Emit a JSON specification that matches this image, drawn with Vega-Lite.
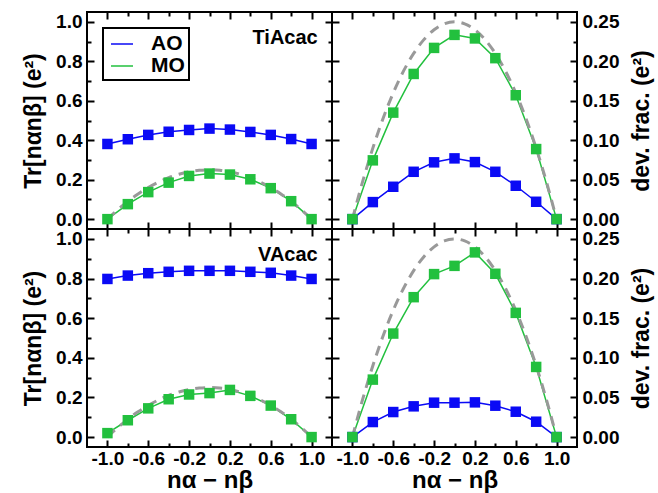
{
"$schema": "https://vega.github.io/schema/vega-lite/v6.json",
"background": "white",
"padding": {"left": 21, "top": 10, "right": 0, "bottom": 0},
"config": {
  "view": {"stroke": "black", "strokeWidth": 2},
  "axis": {"domain": false, "grid": false, "labelFont": "Liberation Sans", "labelFontWeight": "bold", "labelFontSize": 19, "labelColor": "black", "tickColor": "black", "tickWidth": 2, "titleFont": "Liberation Sans", "titleFontWeight": "bold", "titleFontSize": 23, "titleColor": "black", "labelFlush": false, "labelOverlap": false}
},
"datasets": {
  "series": [
    {"m":"TiAcac","q":"tr","s":"AO","x":-1,"y":0.381},{"m":"TiAcac","q":"tr","s":"AO","x":-0.8,"y":0.405},{"m":"TiAcac","q":"tr","s":"AO","x":-0.6,"y":0.427},{"m":"TiAcac","q":"tr","s":"AO","x":-0.4,"y":0.443},{"m":"TiAcac","q":"tr","s":"AO","x":-0.2,"y":0.452},{"m":"TiAcac","q":"tr","s":"AO","x":0,"y":0.459},{"m":"TiAcac","q":"tr","s":"AO","x":0.2,"y":0.454},{"m":"TiAcac","q":"tr","s":"AO","x":0.4,"y":0.442},{"m":"TiAcac","q":"tr","s":"AO","x":0.6,"y":0.427},{"m":"TiAcac","q":"tr","s":"AO","x":0.8,"y":0.406},{"m":"TiAcac","q":"tr","s":"AO","x":1,"y":0.381},
    {"m":"TiAcac","q":"tr","s":"MO","x":-1,"y":0.0},{"m":"TiAcac","q":"tr","s":"MO","x":-0.8,"y":0.076},{"m":"TiAcac","q":"tr","s":"MO","x":-0.6,"y":0.137},{"m":"TiAcac","q":"tr","s":"MO","x":-0.4,"y":0.185},{"m":"TiAcac","q":"tr","s":"MO","x":-0.2,"y":0.219},{"m":"TiAcac","q":"tr","s":"MO","x":0,"y":0.231},{"m":"TiAcac","q":"tr","s":"MO","x":0.2,"y":0.226},{"m":"TiAcac","q":"tr","s":"MO","x":0.4,"y":0.202},{"m":"TiAcac","q":"tr","s":"MO","x":0.6,"y":0.157},{"m":"TiAcac","q":"tr","s":"MO","x":0.8,"y":0.091},{"m":"TiAcac","q":"tr","s":"MO","x":1,"y":0.0},
    {"m":"TiAcac","q":"dev","s":"AO","x":-1,"y":0},{"m":"TiAcac","q":"dev","s":"AO","x":-0.8,"y":0.0216},{"m":"TiAcac","q":"dev","s":"AO","x":-0.6,"y":0.041},{"m":"TiAcac","q":"dev","s":"AO","x":-0.4,"y":0.06},{"m":"TiAcac","q":"dev","s":"AO","x":-0.2,"y":0.072},{"m":"TiAcac","q":"dev","s":"AO","x":0,"y":0.077},{"m":"TiAcac","q":"dev","s":"AO","x":0.2,"y":0.0723},{"m":"TiAcac","q":"dev","s":"AO","x":0.4,"y":0.06},{"m":"TiAcac","q":"dev","s":"AO","x":0.6,"y":0.0423},{"m":"TiAcac","q":"dev","s":"AO","x":0.8,"y":0.022},{"m":"TiAcac","q":"dev","s":"AO","x":1,"y":0},
    {"m":"TiAcac","q":"dev","s":"MO","x":-1,"y":0},{"m":"TiAcac","q":"dev","s":"MO","x":-0.8,"y":0.0745},{"m":"TiAcac","q":"dev","s":"MO","x":-0.6,"y":0.135},{"m":"TiAcac","q":"dev","s":"MO","x":-0.4,"y":0.184},{"m":"TiAcac","q":"dev","s":"MO","x":-0.2,"y":0.217},{"m":"TiAcac","q":"dev","s":"MO","x":0,"y":0.2335},{"m":"TiAcac","q":"dev","s":"MO","x":0.2,"y":0.229},{"m":"TiAcac","q":"dev","s":"MO","x":0.4,"y":0.204},{"m":"TiAcac","q":"dev","s":"MO","x":0.6,"y":0.157},{"m":"TiAcac","q":"dev","s":"MO","x":0.8,"y":0.0888},{"m":"TiAcac","q":"dev","s":"MO","x":1,"y":0},
    {"m":"VAcac","q":"tr","s":"AO","x":-1,"y":0.798},{"m":"VAcac","q":"tr","s":"AO","x":-0.8,"y":0.815},{"m":"VAcac","q":"tr","s":"AO","x":-0.6,"y":0.827},{"m":"VAcac","q":"tr","s":"AO","x":-0.4,"y":0.834},{"m":"VAcac","q":"tr","s":"AO","x":-0.2,"y":0.839},{"m":"VAcac","q":"tr","s":"AO","x":0,"y":0.839},{"m":"VAcac","q":"tr","s":"AO","x":0.2,"y":0.839},{"m":"VAcac","q":"tr","s":"AO","x":0.4,"y":0.834},{"m":"VAcac","q":"tr","s":"AO","x":0.6,"y":0.829},{"m":"VAcac","q":"tr","s":"AO","x":0.8,"y":0.815},{"m":"VAcac","q":"tr","s":"AO","x":1,"y":0.798},
    {"m":"VAcac","q":"tr","s":"MO","x":-1,"y":0.02},{"m":"VAcac","q":"tr","s":"MO","x":-0.8,"y":0.085},{"m":"VAcac","q":"tr","s":"MO","x":-0.6,"y":0.145},{"m":"VAcac","q":"tr","s":"MO","x":-0.4,"y":0.191},{"m":"VAcac","q":"tr","s":"MO","x":-0.2,"y":0.215},{"m":"VAcac","q":"tr","s":"MO","x":0,"y":0.222},{"m":"VAcac","q":"tr","s":"MO","x":0.2,"y":0.238},{"m":"VAcac","q":"tr","s":"MO","x":0.4,"y":0.208},{"m":"VAcac","q":"tr","s":"MO","x":0.6,"y":0.159},{"m":"VAcac","q":"tr","s":"MO","x":0.8,"y":0.09},{"m":"VAcac","q":"tr","s":"MO","x":1,"y":0.0},
    {"m":"VAcac","q":"dev","s":"AO","x":-1,"y":0},{"m":"VAcac","q":"dev","s":"AO","x":-0.8,"y":0.019},{"m":"VAcac","q":"dev","s":"AO","x":-0.6,"y":0.0316},{"m":"VAcac","q":"dev","s":"AO","x":-0.4,"y":0.0388},{"m":"VAcac","q":"dev","s":"AO","x":-0.2,"y":0.0434},{"m":"VAcac","q":"dev","s":"AO","x":0,"y":0.0434},{"m":"VAcac","q":"dev","s":"AO","x":0.2,"y":0.0438},{"m":"VAcac","q":"dev","s":"AO","x":0.4,"y":0.0396},{"m":"VAcac","q":"dev","s":"AO","x":0.6,"y":0.032},{"m":"VAcac","q":"dev","s":"AO","x":0.8,"y":0.0194},{"m":"VAcac","q":"dev","s":"AO","x":1,"y":0},
    {"m":"VAcac","q":"dev","s":"MO","x":-1,"y":0},{"m":"VAcac","q":"dev","s":"MO","x":-0.8,"y":0.0725},{"m":"VAcac","q":"dev","s":"MO","x":-0.6,"y":0.1306},{"m":"VAcac","q":"dev","s":"MO","x":-0.4,"y":0.1765},{"m":"VAcac","q":"dev","s":"MO","x":-0.2,"y":0.2056},{"m":"VAcac","q":"dev","s":"MO","x":0,"y":0.216},{"m":"VAcac","q":"dev","s":"MO","x":0.2,"y":0.233},{"m":"VAcac","q":"dev","s":"MO","x":0.4,"y":0.206},{"m":"VAcac","q":"dev","s":"MO","x":0.6,"y":0.1567},{"m":"VAcac","q":"dev","s":"MO","x":0.8,"y":0.0885},{"m":"VAcac","q":"dev","s":"MO","x":1,"y":0}
  ],
  "ideal": [
    {"x":-1,"y":0},{"x":-0.9,"y":0.0475},{"x":-0.8,"y":0.09},{"x":-0.7,"y":0.1275},{"x":-0.6,"y":0.16},{"x":-0.5,"y":0.1875},{"x":-0.4,"y":0.21},{"x":-0.3,"y":0.2275},{"x":-0.2,"y":0.24},{"x":-0.1,"y":0.2475},{"x":0,"y":0.25},{"x":0.1,"y":0.2475},{"x":0.2,"y":0.24},{"x":0.3,"y":0.2275},{"x":0.4,"y":0.21},{"x":0.5,"y":0.1875},{"x":0.6,"y":0.16},{"x":0.7,"y":0.1275},{"x":0.8,"y":0.09},{"x":0.9,"y":0.0475},{"x":1,"y":0}
  ]
},
"columns": 2,
"spacing": 0,
"bounds": "flush",
"resolve": {"scale": {"x": "independent", "y": "independent", "color": "independent", "fill": "independent"}, "legend": {"color": "independent", "fill": "independent"}},
"concat": [
  {
    "width": 245, "height": 217,
    "resolve": {"axis": {"x": "independent", "y": "independent"}},
    "layer": [
      {
        "data": {"name": "series"},
        "transform": [{"filter": "datum.m=='TiAcac' && datum.q=='tr'"}],
        "mark": {"type": "line", "strokeWidth": 1.5},
        "encoding": {
          "x": {"field": "x", "type": "quantitative", "scale": {"domain": [-1.2, 1.2], "nice": false, "zero": false}, "axis": {"orient": "top", "values": [-1,-0.8,-0.6,-0.4,-0.2,0,0.2,0.4,0.6,0.8,1], "labels": false, "title": null, "tickSize": {"condition": {"test": "abs(round(datum.value*10))%4==2", "value": -7}, "value": -4}}},
          "y": {"field": "y", "type": "quantitative", "scale": {"domain": [-0.05, 1.05], "nice": false, "zero": false}, "axis": {"orient": "right", "values": [0,0.1,0.2,0.3,0.4,0.5,0.6,0.7,0.8,0.9,1], "labels": false, "title": null, "tickSize": {"condition": {"test": "round(datum.value*10)%2==0", "value": -7}, "value": -4}}},
          "color": {"field": "s", "type": "nominal", "scale": {"domain": ["AO", "MO"], "range": ["#0a0af5", "#22c03e"]}, "legend": {"orient": "top-left", "offset": 16, "title": null, "padding": 4, "symbolOffset": 3, "strokeColor": "black", "fillColor": "white", "symbolType": "stroke", "symbolSize": 484, "symbolStrokeWidth": 1.5, "labelFont": "Liberation Sans", "labelFontWeight": "bold", "labelFontSize": 21, "labelColor": "black", "labelOffset": 17, "rowPadding": 0, "encode": {"legend": {"update": {"strokeWidth": {"value": 2}}}}}}
        }
      },
      {
        "data": {"name": "ideal"},
        "mark": {"type": "line", "color": "#999999", "strokeWidth": 3, "strokeDash": [10, 7], "interpolate": "monotone"},
        "encoding": {
          "x": {"field": "x", "type": "quantitative", "axis": {"orient": "bottom", "values": [-1,-0.6,-0.2,0.2,0.6,1], "labels": false, "title": null, "tickSize": -7}},
          "y": {"field": "y", "type": "quantitative", "axis": {"orient": "left", "values": [0,0.1,0.2,0.3,0.4,0.5,0.6,0.7,0.8,0.9,1], "labelExpr": "round(datum.value*10)%2==0 ? format(datum.value,'.1f') : ''", "labelPadding": 12, "title": "Tr[nαnβ] (e²)", "titlePadding": 10, "tickSize": {"condition": {"test": "round(datum.value*10)%2==0", "value": -7}, "value": -4}}}
        }
      },
      {
        "data": {"name": "series"},
        "transform": [{"filter": "datum.m=='TiAcac' && datum.q=='tr'"}],
        "mark": {"type": "point", "shape": "square", "size": 110, "filled": true, "opacity": 1, "strokeWidth": 0},
        "encoding": {
          "x": {"field": "x", "type": "quantitative", "axis": null},
          "y": {"field": "y", "type": "quantitative", "axis": null},
          "fill": {"field": "s", "type": "nominal", "scale": {"domain": ["AO", "MO"], "range": ["#0a0af5", "#22c03e"]}, "legend": null}
        }
      },
      {
        "data": {"values": [{"label": "TiAcac"}]},
        "mark": {"type": "text", "align": "right", "baseline": "alphabetic", "font": "Liberation Sans", "fontWeight": "bold", "fontSize": 20, "color": "black"},
        "encoding": {
          "x": {"datum": 1.06, "type": "quantitative", "axis": null},
          "y": {"datum": 0.89, "type": "quantitative", "axis": null},
          "text": {"field": "label"}
        }
      }
    ]
  },
  {
    "width": 245, "height": 217,
    "resolve": {"axis": {"x": "independent", "y": "independent"}},
    "layer": [
      {
        "data": {"name": "series"},
        "transform": [{"filter": "datum.m=='TiAcac' && datum.q=='dev'"}],
        "mark": {"type": "line", "strokeWidth": 1.5},
        "encoding": {
          "x": {"field": "x", "type": "quantitative", "scale": {"domain": [-1.2, 1.2], "nice": false, "zero": false}, "axis": {"orient": "top", "values": [-1,-0.8,-0.6,-0.4,-0.2,0,0.2,0.4,0.6,0.8,1], "labels": false, "title": null, "tickSize": {"condition": {"test": "abs(round(datum.value*10))%4==2", "value": -7}, "value": -4}}},
          "y": {"field": "y", "type": "quantitative", "scale": {"domain": [-0.0125, 0.2625], "nice": false, "zero": false}, "axis": {"orient": "right", "values": [0,0.025,0.05,0.075,0.1,0.125,0.15,0.175,0.2,0.225,0.25], "labelExpr": "round(datum.value*40)%2==0 ? format(datum.value,'.2f') : ''", "labelPadding": 12, "title": "dev. frac. (e²)", "titleAngle": 270, "titleBaseline": "top", "titlePadding": 12, "tickSize": {"condition": {"test": "round(datum.value*40)%2==0", "value": -7}, "value": -4}}},
          "color": {"field": "s", "type": "nominal", "scale": {"domain": ["AO", "MO"], "range": ["#0a0af5", "#22c03e"]}, "legend": null}
        }
      },
      {
        "data": {"name": "ideal"},
        "mark": {"type": "line", "color": "#999999", "strokeWidth": 3, "strokeDash": [10, 7], "interpolate": "monotone"},
        "encoding": {
          "x": {"field": "x", "type": "quantitative", "axis": {"orient": "bottom", "values": [-1,-0.6,-0.2,0.2,0.6,1], "labels": false, "title": null, "tickSize": -7}},
          "y": {"field": "y", "type": "quantitative", "axis": {"orient": "left", "values": [0,0.05,0.1,0.15,0.2,0.25], "labels": false, "title": null, "tickSize": -7}}
        }
      },
      {
        "data": {"name": "series"},
        "transform": [{"filter": "datum.m=='TiAcac' && datum.q=='dev'"}],
        "mark": {"type": "point", "shape": "square", "size": 110, "filled": true, "opacity": 1, "strokeWidth": 0},
        "encoding": {
          "x": {"field": "x", "type": "quantitative", "axis": null},
          "y": {"field": "y", "type": "quantitative", "axis": null},
          "fill": {"field": "s", "type": "nominal", "scale": {"domain": ["AO", "MO"], "range": ["#0a0af5", "#22c03e"]}, "legend": null}
        }
      }
    ]
  },
  {
    "width": 245, "height": 218,
    "resolve": {"axis": {"x": "independent", "y": "independent"}},
    "layer": [
      {
        "data": {"name": "series"},
        "transform": [{"filter": "datum.m=='VAcac' && datum.q=='tr'"}],
        "mark": {"type": "line", "strokeWidth": 1.5},
        "encoding": {
          "x": {"field": "x", "type": "quantitative", "scale": {"domain": [-1.2, 1.2], "nice": false, "zero": false}, "axis": {"orient": "top", "values": [-1,-0.8,-0.6,-0.4,-0.2,0,0.2,0.4,0.6,0.8,1], "labels": false, "title": null, "tickSize": {"condition": {"test": "abs(round(datum.value*10))%4==2", "value": -7}, "value": -4}}},
          "y": {"field": "y", "type": "quantitative", "scale": {"domain": [-0.05, 1.05], "nice": false, "zero": false}, "axis": {"orient": "right", "values": [0,0.1,0.2,0.3,0.4,0.5,0.6,0.7,0.8,0.9,1], "labels": false, "title": null, "tickSize": {"condition": {"test": "round(datum.value*10)%2==0", "value": -7}, "value": -4}}},
          "color": {"field": "s", "type": "nominal", "scale": {"domain": ["AO", "MO"], "range": ["#0a0af5", "#22c03e"]}, "legend": null}
        }
      },
      {
        "data": {"name": "ideal"},
        "mark": {"type": "line", "color": "#999999", "strokeWidth": 3, "strokeDash": [10, 7], "interpolate": "monotone"},
        "encoding": {
          "x": {"field": "x", "type": "quantitative", "axis": {"orient": "bottom", "values": [-1,-0.8,-0.6,-0.4,-0.2,0,0.2,0.4,0.6,0.8,1], "labelExpr": "abs(round(datum.value*10))%4==2 ? replace(format(datum.value,'.1f'),'−','-') : ''", "labelPadding": 9, "title": "nα − nβ", "titleFontSize": 24, "titlePadding": -3, "tickSize": {"condition": {"test": "abs(round(datum.value*10))%4==2", "value": -7}, "value": -4}}},
          "y": {"field": "y", "type": "quantitative", "axis": {"orient": "left", "values": [0,0.1,0.2,0.3,0.4,0.5,0.6,0.7,0.8,0.9,1], "labelExpr": "round(datum.value*10)%2==0 ? format(datum.value,'.1f') : ''", "labelPadding": 12, "title": "Tr[nαnβ] (e²)", "titlePadding": 10, "tickSize": {"condition": {"test": "round(datum.value*10)%2==0", "value": -7}, "value": -4}}}
        }
      },
      {
        "data": {"name": "series"},
        "transform": [{"filter": "datum.m=='VAcac' && datum.q=='tr'"}],
        "mark": {"type": "point", "shape": "square", "size": 110, "filled": true, "opacity": 1, "strokeWidth": 0},
        "encoding": {
          "x": {"field": "x", "type": "quantitative", "axis": null},
          "y": {"field": "y", "type": "quantitative", "axis": null},
          "fill": {"field": "s", "type": "nominal", "scale": {"domain": ["AO", "MO"], "range": ["#0a0af5", "#22c03e"]}, "legend": null}
        }
      },
      {
        "data": {"values": [{"label": "VAcac"}]},
        "mark": {"type": "text", "align": "right", "baseline": "alphabetic", "font": "Liberation Sans", "fontWeight": "bold", "fontSize": 20, "color": "black"},
        "encoding": {
          "x": {"datum": 1.06, "type": "quantitative", "axis": null},
          "y": {"datum": 0.888, "type": "quantitative", "axis": null},
          "text": {"field": "label"}
        }
      }
    ]
  },
  {
    "width": 245, "height": 218,
    "resolve": {"axis": {"x": "independent", "y": "independent"}},
    "layer": [
      {
        "data": {"name": "series"},
        "transform": [{"filter": "datum.m=='VAcac' && datum.q=='dev'"}],
        "mark": {"type": "line", "strokeWidth": 1.5},
        "encoding": {
          "x": {"field": "x", "type": "quantitative", "scale": {"domain": [-1.2, 1.2], "nice": false, "zero": false}, "axis": {"orient": "top", "values": [-1,-0.8,-0.6,-0.4,-0.2,0,0.2,0.4,0.6,0.8,1], "labels": false, "title": null, "tickSize": {"condition": {"test": "abs(round(datum.value*10))%4==2", "value": -7}, "value": -4}}},
          "y": {"field": "y", "type": "quantitative", "scale": {"domain": [-0.0125, 0.2625], "nice": false, "zero": false}, "axis": {"orient": "right", "values": [0,0.025,0.05,0.075,0.1,0.125,0.15,0.175,0.2,0.225,0.25], "labelExpr": "round(datum.value*40)%2==0 ? format(datum.value,'.2f') : ''", "labelPadding": 12, "title": "dev. frac. (e²)", "titleAngle": 270, "titleBaseline": "top", "titlePadding": 12, "tickSize": {"condition": {"test": "round(datum.value*40)%2==0", "value": -7}, "value": -4}}},
          "color": {"field": "s", "type": "nominal", "scale": {"domain": ["AO", "MO"], "range": ["#0a0af5", "#22c03e"]}, "legend": null}
        }
      },
      {
        "data": {"name": "ideal"},
        "mark": {"type": "line", "color": "#999999", "strokeWidth": 3, "strokeDash": [10, 7], "interpolate": "monotone"},
        "encoding": {
          "x": {"field": "x", "type": "quantitative", "axis": {"orient": "bottom", "values": [-1,-0.8,-0.6,-0.4,-0.2,0,0.2,0.4,0.6,0.8,1], "labelExpr": "abs(round(datum.value*10))%4==2 ? replace(format(datum.value,'.1f'),'−','-') : ''", "labelPadding": 9, "title": "nα − nβ", "titleFontSize": 24, "titlePadding": -3, "tickSize": {"condition": {"test": "abs(round(datum.value*10))%4==2", "value": -7}, "value": -4}}},
          "y": {"field": "y", "type": "quantitative", "axis": {"orient": "left", "values": [0,0.05,0.1,0.15,0.2,0.25], "labels": false, "title": null, "tickSize": -7}}
        }
      },
      {
        "data": {"name": "series"},
        "transform": [{"filter": "datum.m=='VAcac' && datum.q=='dev'"}],
        "mark": {"type": "point", "shape": "square", "size": 110, "filled": true, "opacity": 1, "strokeWidth": 0},
        "encoding": {
          "x": {"field": "x", "type": "quantitative", "axis": null},
          "y": {"field": "y", "type": "quantitative", "axis": null},
          "fill": {"field": "s", "type": "nominal", "scale": {"domain": ["AO", "MO"], "range": ["#0a0af5", "#22c03e"]}, "legend": null}
        }
      }
    ]
  }
]
}
